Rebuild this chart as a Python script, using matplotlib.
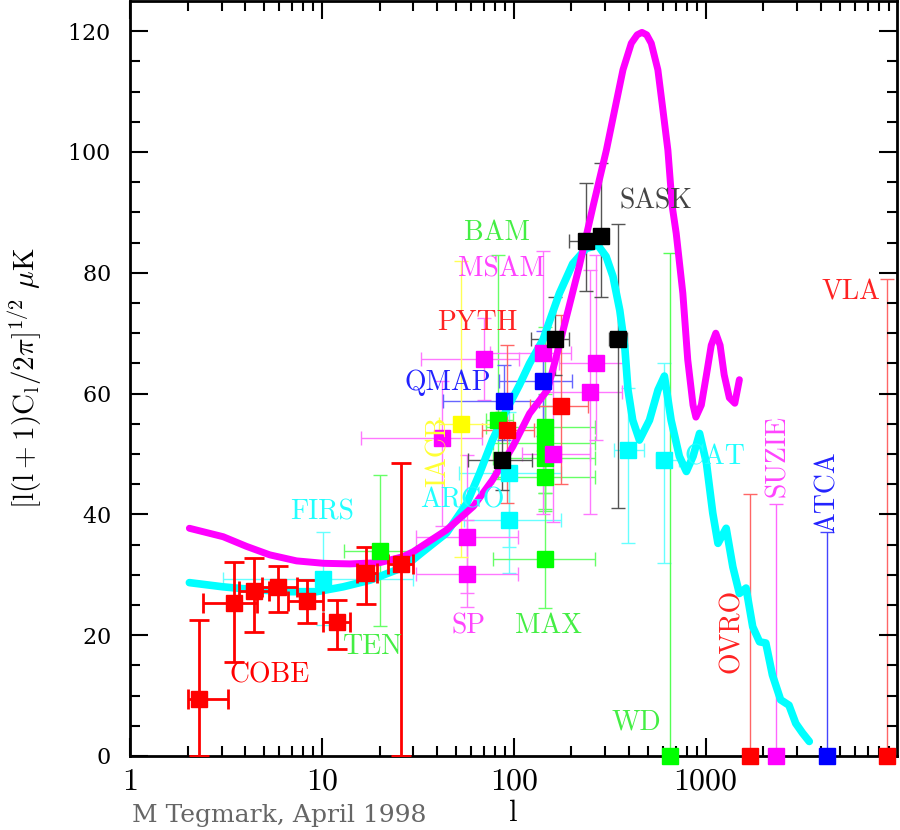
import numpy as np
import matplotlib
matplotlib.use('Agg')
import matplotlib.pyplot as plt

plt.rcParams['mathtext.fontset'] = 'cm'
plt.rcParams['axes.formatter.use_mathtext'] = True

# theory curves: (l, dT)
magenta_curve = [
    (2.04, 37.7), (3.06, 36.3), (4.05, 34.7), (5.35, 33.3), (7.38, 32.3),
    (10.2, 31.9), (14.0, 31.8), (20.0, 32.0), (26.5, 33.0), (29.9, 33.8),
    (44.6, 37.4), (61.5, 41.3), (77.5, 45.7), (98.8, 51.2), (121, 56.7),
    (150, 60.6), (177, 69.3), (220, 81.2), (259, 91.0), (304, 100.3),
    (336, 107.0), (371, 113.6), (410, 118.0), (440, 119.4), (466, 119.8),
    (493, 119.4), (521, 118.0), (564, 113.6), (599, 107.0), (636, 100.3),
    (670, 91.0), (703, 86.5), (761, 76.6), (807, 65.6), (860, 58.1),
    (890, 56.1), (950, 58.1), (1010, 63.1), (1070, 68.0), (1130, 70.0),
    (1190, 68.0), (1250, 63.1), (1330, 59.3), (1420, 58.4), (1500, 62.3),
]
cyan_curve = [
    (2.04, 28.7), (3.06, 28.0), (4.57, 27.5), (6.8, 27.2), (9.4, 27.2),
    (12.9, 28.0), (17.8, 29.1), (24.5, 30.8), (29.9, 32.5), (33.6, 33.8),
    (44.6, 36.9), (56.9, 41.8), (66.4, 46.8), (77.5, 52.3), (91.7, 57.3),
    (107, 61.4), (121, 65.0), (142, 68.9), (173, 76.6), (203, 81.5),
    (238, 84.0), (274, 84.6), (303, 82.7), (329, 79.4), (357, 73.8),
    (379, 67.8), (394, 60.6), (417, 55.6), (452, 52.3), (510, 55.6),
    (565, 60.6), (610, 62.9), (661, 55.6), (730, 49.6), (794, 47.1),
    (860, 49.6), (930, 53.4), (1010, 48.5), (1090, 40.2), (1160, 35.2),
    (1280, 37.7), (1387, 31.3), (1500, 26.9), (1625, 27.8), (1760, 21.4),
    (1910, 18.9), (2060, 18.7), (2230, 13.4), (2460, 9.3), (2720, 8.4),
    (2950, 5.4), (3200, 3.8), (3470, 2.4),
]

# measurements: (l, lmin, lmax, dT, dTmin, dTmax)
cobe = [
    (2.3, 2.0, 3.24, 9.5, 0.0, 22.5),
    (3.48, 2.4, 4.6, 25.3, 15.6, 32.1),
    (4.42, 3.7, 5.3, 27.3, 20.5, 32.8),
    (5.9, 4.9, 7.4, 28.0, 23.8, 31.5),
    (8.35, 6.7, 10.1, 25.7, 22.0, 29.1),
    (12.0, 10.1, 14.0, 22.2, 17.7, 25.8),
    (16.9, 15.2, 19.3, 30.3, 25.2, 34.6),
    (25.8, 22.0, 30.0, 31.8, 0.0, 48.5),
]
cyan_pts = [
    (10.1, 3.05, 30.0, 29.3, 21.7, 37.1),   # FIRS
    (95, 52, 177, 46.8, 34.6, 57.0),        # ARGO
    (95, 55, 177, 39.1, 30.3, 47.4),
    (393, 335, 480, 50.7, 35.3, 61.0),      # CAT
    (607, 550, 730, 49.0, 32.0, 65.0),
]
green_pts = [
    (20, 13, 31, 34.0, 21.5, 46.5),         # TEN
    (83, 72, 99, 55.6, 45.8, 83.0),         # BAM
    (145, 72, 264, 54.5, 45.0, 71.0),       # MAX
    (145, 78, 264, 51.8, 43.5, 60.0),
    (145, 78, 264, 49.3, 40.5, 58.0),
    (145, 78, 264, 46.2, 40.9, 53.0),
    (145, 78, 264, 32.6, 24.5, 43.5),
]
magenta_pts = [
    (42.4, 16, 68, 52.6, 38.0, 62.0),
    (70, 33, 107, 65.8, 59.0, 72.5),
    (142, 75, 200, 66.7, 40.0, 83.6),
    (160, 111, 249, 50.0, 38.7, 62.0),
    (249, 142, 365, 60.3, 40.0, 80.5),
    (270, 172, 390, 65.0, 52.3, 83.0),
    (57.4, 31, 105, 36.2, 27.0, 49.8),      # SP
    (57.4, 31, 105, 30.1, 24.7, 39.0),
]
blue_pts = [
    (89, 43, 136, 58.8, 52.3, 64.7),        # QMAP
    (142, 84, 201, 62.1, 53.0, 70.3),
]
red_pts = [
    (92.7, 68, 128, 54.0, 41.9, 68.0),      # PYTH
    (177, 121, 243, 58.0, 45.0, 73.0),
]
black_pts = [
    (87.4, 58, 125, 49.0, 44.0, 57.0),      # SASK
    (165, 123, 195, 69.0, 63.0, 76.0),
    (238, 195, 265, 85.2, 77.0, 94.9),
    (284, 265, 305, 86.1, 76.0, 98.2),
    (348, 315, 390, 69.0, 41.0, 88.0),
]
yellow_pts = [
    (53, 41, 78, 55.0, 33.0, 82.0),         # IACB
]
# upper limits: (l, top)
wd_lim = [(649, 83.3)]
ovro_lim = [(1695, 43.4)]
suzie_lim = [(2333, 41.7)]
atca_lim = [(4300, 37.1)]
vla_lim = [(8870, 79.0)]

# labels: (text, l, dT, color)
labels = [
    ('COBE', 3.3, 13.4, '#ff0000'),
    ('FIRS', 6.8, 40.4, '#22ffff'),
    ('TEN', 12.9, 18.0, '#44ee44'),
    ('ARGO', 32.4, 42.4, '#22ffff'),
    ('QMAP', 27.1, 61.8, '#2222ff'),
    ('PYTH', 39.7, 71.7, '#ff2222'),
    ('MSAM', 51.1, 80.5, '#ff44ff'),
    ('BAM', 55.0, 86.6, '#44ee44'),
    ('SASK', 357, 91.9, '#444444'),
    ('SP', 47.5, 21.5, '#ff44ff'),
    ('MAX', 102, 21.5, '#44ee44'),
    ('CAT', 778, 49.5, '#22ffff'),
    ('WD', 324, 5.6, '#44ee44'),
    ('VLA', 4020, 76.7, '#ff2222'),
]
rot_labels = [
    ('IACB', 40.7, 50.3, '#ffff33'),
    ('OVRO', 1374, 20.7, '#ff2222'),
    ('SUZIE', 2371, 49.7, '#ff44ff'),
    ('ATCA', 4300, 43.7, '#2222ff'),
]

fig = plt.figure(figsize=(9, 8.3), dpi=100)
ax = fig.add_axes([0.1444, 0.0892, 0.8528, 0.9096])


def draw(points, color, ecolor, lw=1.0, cap=5, ez=1):
    p = np.array(points, dtype=float)
    l, lmin, lmax, dt, lo, hi = p.T
    ax.errorbar(l, dt, xerr=[l - lmin, lmax - l], yerr=[dt - lo, hi - dt],
                fmt='none', ecolor=ecolor, elinewidth=lw, capsize=cap,
                capthick=lw, zorder=ez)
    ax.plot(l, dt, 's', color=color, mec=color, ms=11, zorder=6, clip_on=False)


def draw_limit(points, color, ecolor):
    p = np.array(points, dtype=float)
    l, top = p.T
    ax.errorbar(l, np.zeros_like(l), yerr=[np.zeros_like(l), top],
                fmt='none', ecolor=ecolor, elinewidth=1.0, capsize=5,
                capthick=1.0, zorder=1)
    ax.plot(l, np.zeros_like(l), 's', color=color, mec=color, ms=11,
            zorder=6, clip_on=False)


mc = np.array(magenta_curve)
cc = np.array(cyan_curve)
ax.plot(cc[:, 0], cc[:, 1], color='#00ffff', lw=5.5, zorder=3,
        solid_capstyle='round', solid_joinstyle='round')
ax.plot(mc[:, 0], mc[:, 1], color='#ff00ff', lw=5.0, zorder=3.5,
        solid_capstyle='round', solid_joinstyle='round')

draw(cyan_pts, '#00ffff', '#66ffff')
draw(green_pts, '#00ff00', '#66ff66')
draw(magenta_pts, '#ff00ff', '#ff77ff')
draw(blue_pts, '#0000ff', '#6666ff')
draw(red_pts, '#ff0000', '#ff6666')
draw(yellow_pts, '#ffff00', '#ffff55')
draw(black_pts, '#000000', '#555555')
draw(cobe, '#ff0000', '#ff0000', lw=2.0, cap=7, ez=4)

draw_limit(wd_lim, '#00ff00', '#55ff55')
draw_limit(ovro_lim, '#ff0000', '#ff6666')
draw_limit(suzie_lim, '#ff00ff', '#ff66ff')
draw_limit(atca_lim, '#0000ff', '#4444ff')
draw_limit(vla_lim, '#ff0000', '#ff6666')

for txt, lx, ly, col in labels:
    ax.text(lx, ly, txt, color=col, fontsize=20, family='cmr10',
            ha='left', va='center', zorder=7)
for txt, lx, ly, col in rot_labels:
    ax.text(lx, ly, txt, color=col, fontsize=20, family='cmr10',
            ha='center', va='center', rotation=90, zorder=7)

ax.set_xscale('log')
ax.set_xlim(1, 10000)
ax.set_ylim(0, 125)
ax.set_yticks(np.arange(0, 121, 20))
ax.set_yticks(np.arange(0, 125, 5), minor=True)
ax.set_xticks([1, 10, 100, 1000])
ax.set_xticklabels(['1', '10', '100', '1000'])
ax.tick_params(which='both', direction='in', top=True, right=True, width=1.5)
ax.tick_params(which='major', length=13)
ax.tick_params(which='minor', length=7)
ax.tick_params(axis='x', which='major', labelsize=23, pad=9)
ax.tick_params(axis='y', which='major', labelsize=16, pad=14)
for t in ax.get_xticklabels():
    t.set_family('cmr10')
for t in ax.get_yticklabels():
    t.set_family('DejaVu Serif')
for s in ax.spines.values():
    s.set_linewidth(2)

ax.set_ylabel(r'$[\mathrm{l(l+1)C_l/2}\pi]^{1/2}\ \mu\mathrm{K}$', fontsize=21)
ax.yaxis.set_label_coords(-0.112, 0.5)
ax.set_xlabel('l', fontsize=22, family='cmr10')
ax.xaxis.set_label_coords(0.5, -0.058)

fig.text(132 / 900, 1 - 815 / 830, 'M Tegmark, April 1998', color='#666666',
         fontsize=18, family='DejaVu Serif', ha='left', va='center')

fig.savefig('out.png', dpi=100)
